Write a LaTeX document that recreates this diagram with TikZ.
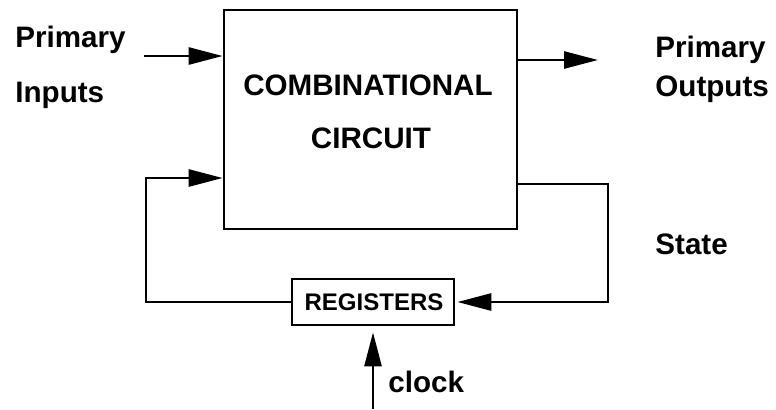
\documentclass[tikz,border=0pt]{standalone}
\usepackage{fontspec}
\setmainfont{Liberation Sans}
\usetikzlibrary{arrows.meta}

\tikzset{
	block/.style={shape=rectangle, draw, line width=1.35pt, inner sep=0pt},
	lbl/.style={font=\fontsize{14.8}{17}\selectfont\bfseries, inner sep=0pt},
	smalllbl/.style={font=\fontsize{12}{14}\selectfont\bfseries, inner sep=0pt},
	wire/.style={line width=1.35pt, -{Triangle[length=17pt, width=8.5pt]}}
}

\begin{document}
\begin{tikzpicture}[x=0.5pt, y=-0.5pt]
	\useasboundingbox (0, 0) rectangle (776, 409);
	% Blocks:
	\node[block, minimum width=146.5pt, minimum height=109.5pt] (comb) at (370.5, 119.5){};
	\node[block, minimum width=81pt, minimum height=23pt] (reg) at (373, 302){};
	\node[smalllbl, anchor=base] (regtxt) at (374, 310){REGISTERS};
	\node[lbl, anchor=base] (combtxt) at (368, 95){COMBINATIONAL};
	\node[lbl, anchor=base] (circtxt) at (371, 148){CIRCUIT};
	% Labels:
	\node[lbl, anchor=base west] (pin) at (15, 47){Primary};
	\node[lbl, anchor=base west] (inputs) at (15, 102){Inputs};
	\node[lbl, anchor=base west] (pout) at (655, 57){Primary};
	\node[lbl, anchor=base west] (outputs) at (655, 96){Outputs};
	\node[lbl, anchor=base west] (state) at (655, 254){State};
	\node[lbl, anchor=base west] (clocktxt) at (388, 392){clock};
	% Wires:
	\coordinate (in) at (144, 56);
	\coordinate (out) at (598, 60);
	\coordinate (st) at (608, 184);
	\coordinate (fb) at (146, 178);
	\coordinate (clk) at (373, 409);
	\draw[wire] (in) -- (in -| comb.west);
	\draw[wire] (out -| comb.east) -- (out);
	\draw[wire, shorten >=1pt] (st -| comb.east) -- (st) |- (reg.east);
	\draw[wire] (reg.west) -| (fb) -- (fb -| comb.west);
	\draw[wire, shorten >=3pt] (clk) -- (clk |- reg.south);
\end{tikzpicture}
\end{document}
